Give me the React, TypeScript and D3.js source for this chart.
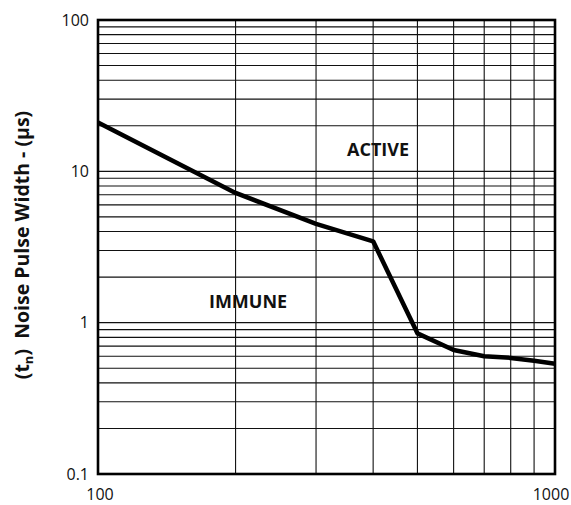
import { useEffect } from "react"
import * as d3 from "d3"

const width = 571
const height = 505

// curve
const freq = [100, 200, 300, 400, 500, 600, 700, 800, 900, 1000]
const pulse = [21, 7.2, 4.5, 3.45, 0.85, 0.66, 0.6, 0.585, 0.56, 0.535]

const xGrid = [200, 300, 400, 500, 600, 700, 800, 900]
const yGrid = [0.2, 0.3, 0.4, 0.5, 0.6, 0.7, 0.8, 0.9, 1, 2, 3, 4, 5, 6, 7, 8, 9, 10, 20, 30, 40, 50, 60, 70, 80, 90]
const xTicks = [100, 1000]
const yTicks = [0.1, 1, 10, 100]

const labels = [
  { text: "ACTIVE", x: 410, y: 12.6 },
  { text: "IMMUNE", x: 213, y: 1.25 },
]

const font = "'Open Sans', sans-serif"

export default function App() {
  useEffect(() => {
    document.body.style.margin = "0"
  }, [])

  const left = 98
  const right = 555
  const top = 20
  const bottom = 474

  const x = d3.scaleLog().domain([100, 1000]).range([left, right])
  const y = d3.scaleLog().domain([0.1, 100]).range([bottom, top])

  const line = d3
    .line<number>()
    .x((_, i) => x(freq[i]))
    .y((d) => y(d))

  return (
    <svg width={width} height={height} style={{ display: "block", background: "#fff" }}>
      {/* grid */}
      <g stroke="#111" strokeWidth={1.1}>
        {yGrid.map((v) => (
          <line key={"h" + v} x1={left} x2={right} y1={y(v)} y2={y(v)} />
        ))}
        {xGrid.map((v) => (
          <line key={"v" + v} x1={x(v)} x2={x(v)} y1={top} y2={bottom} />
        ))}
      </g>

      {/* frame */}
      <rect x={left} y={top} width={right - left} height={bottom - top} fill="none" stroke="#000" strokeWidth={2.6} />

      {/* curve */}
      <path d={line(pulse) ?? ""} fill="none" stroke="#000" strokeWidth={4.5} strokeLinejoin="round" />

      {/* region labels */}
      {labels.map((l) => (
        <text
          key={l.text}
          x={x(l.x)}
          y={y(l.y)}
          textAnchor="middle"
          fontFamily={font}
          fontWeight={700}
          fontSize={18}
          fill="#111"
        >
          {l.text}
        </text>
      ))}

      {/* y tick labels */}
      {yTicks.map((v) => (
        <text
          key={"yt" + v}
          x={left - 9}
          y={y(v)}
          dy="0.36em"
          textAnchor="end"
          fontFamily={font}
          fontSize={16}
          fill="#111"
        >
          {v}
        </text>
      ))}

      {/* x tick labels */}
      {xTicks.map((v) => (
        <text
          key={"xt" + v}
          x={x(v) + (v === 1000 ? -4 : 2)}
          y={bottom + 26}
          textAnchor="middle"
          fontFamily={font}
          fontSize={16}
          fill="#111"
        >
          {v}
        </text>
      ))}

      {/* y axis title */}
      <text
        transform={`translate(29,${(top + bottom) / 2 - 2}) rotate(-90)`}
        textAnchor="middle"
        fontFamily={font}
        fontWeight={700}
        fontSize={19.5}
        fill="#111"
      >
        (t<tspan fontSize={13} dy="4">n</tspan>
        <tspan dy="-4">{")\u00a0\u00a0Noise Pulse Width - (µs)"}</tspan>
      </text>
    </svg>
  )
}
